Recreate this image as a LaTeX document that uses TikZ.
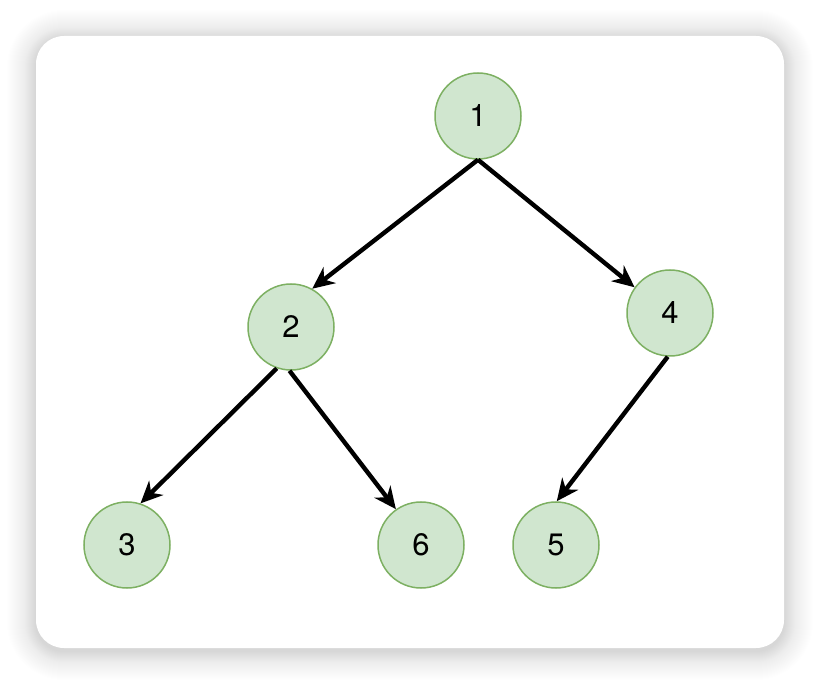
\documentclass[tikz,border=0pt]{standalone}
\usepackage{fontspec}
\setmainfont{TeX Gyre Heros}
\usetikzlibrary{arrows.meta}
\definecolor{nodefill}{HTML}{D0E6CF}
\definecolor{nodeline}{HTML}{7DB062}
\tikzset{
  treenode/.style={circle, draw=nodeline, fill=nodefill, line width=1.5pt,
    minimum size=86pt, inner sep=0pt, font=\fontsize{31}{34}\selectfont},
  edge/.style={line width=4.4pt, -{Stealth[length=22pt, width=20pt, inset=7pt]}}
}
\begin{document}
\begin{tikzpicture}[x=1pt, y=-1pt]
\useasboundingbox (0,0) rectangle (820,684);
\fill[white] (0,0) rectangle (820,684);
% soft shadow
\foreach \i in {1,...,38} {
  \pgfmathsetmacro{\op}{0.00022*(39-\i)}
  \fill[black, opacity=\op, rounded corners={28pt+\i pt}]
    (36-\i, 39-\i) rectangle (784+\i, 651+\i);
}
\fill[white, rounded corners=28pt] (36,36) rectangle (784,648);
% nodes
\node[treenode] (n1) at (478,116) {1};
\node[treenode] (n2) at (291,327) {2};
\node[treenode] (n4) at (670,313) {4};
\node[treenode] (n3) at (127,545) {3};
\node[treenode] (n6) at (421,545) {6};
\node[treenode] (n5) at (556,545) {5};
% edges
\draw[edge] (n1.south) -- (n2.61);
\draw[edge] (n1.south) -- (n4.144);
\draw[edge] (n2.251) -- (n3.72);
\draw[edge] (n2.268) -- (n6.125);
\draw[edge] (n4.267) -- (n5.89);
\end{tikzpicture}
\end{document}
